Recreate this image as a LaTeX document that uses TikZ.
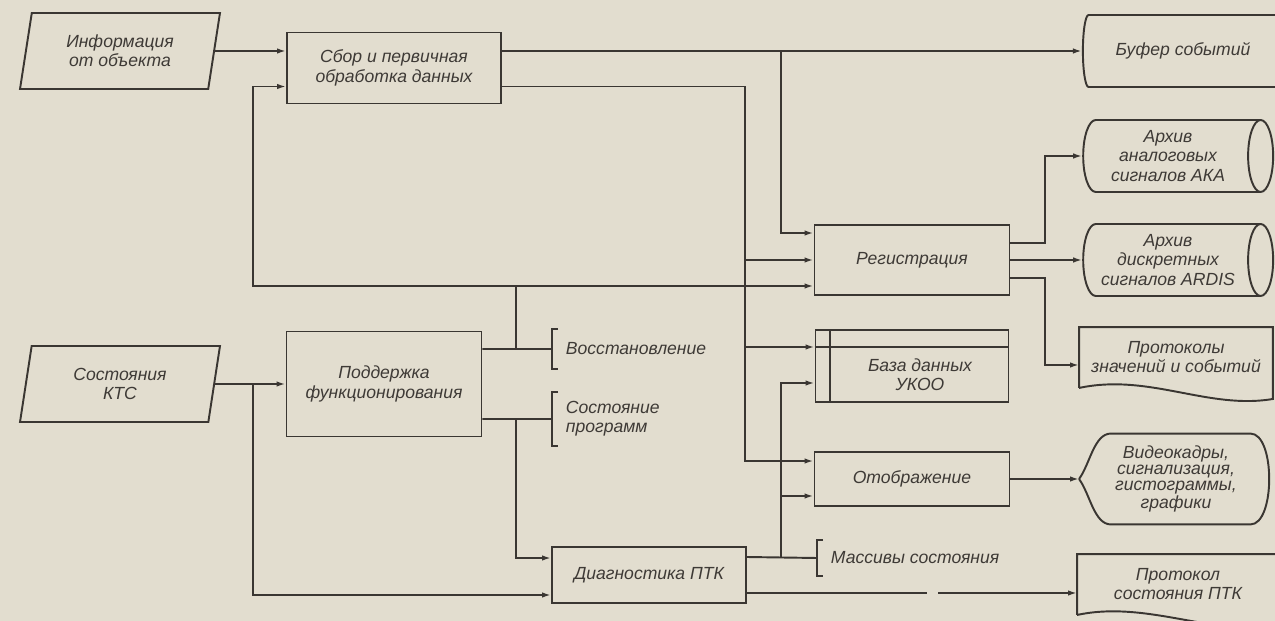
\documentclass[tikz,border=0pt]{standalone}
\usepackage{fontspec}
\setmainfont{Liberation Sans}
\usepackage{tikz}
\usetikzlibrary{shapes.geometric, arrows.meta, positioning, calc}
\definecolor{paperBg}{RGB}{226, 221, 207}
\definecolor{inkDark}{RGB}{58, 54, 50}
\definecolor{inkText}{RGB}{62, 58, 54}

\begin{document}
\begin{tikzpicture}[
    x=0.02cm, y=-0.02cm,
    line width=1.1pt,
    font=\fontsize{10}{11}\selectfont\itshape,
    % Node styles
    block/.style={
        rectangle,
        draw=inkDark,
        minimum width=3.9cm,
        minimum height=1.4cm,
        align=center,
        text=inkText
    },
    iobox/.style={
        trapezium,
        trapezium left angle=75,
        trapezium right angle=105,
        trapezium stretches body,
        draw=inkDark,
        minimum width=4cm,
        minimum height=1.52cm,
        align=center,
        text=inkText
    },
    store/.style={
        cylinder,
        shape border rotate=0,
        aspect=0.4,
        draw=inkDark,
        minimum height=3.8cm,
        minimum width=1.44cm,
        align=center,
        text=inkText
    },
    docbox/.style={
        rectangle,
        minimum width=3.84cm,
        minimum height=1.16cm,
        align=center,
        text=inkText
    },
    comm/.style={
        anchor=west,
        inner xsep=0.26cm,
        align=left,
        text=inkText
    },
    arrow/.style={
        -{Latex[length=1.8mm, width=1.1mm]},
        draw=inkDark
    },
    link/.style={
        draw=inkDark
    }
]

% Paper
\fill[paperBg] (0,0) rectangle (1275,621);
\useasboundingbox (0,0) rectangle (1275,621);

% Inputs
\node[iobox] (info) at (120,51) {Информация\\от объекта};
\node[iobox] (kts) at (120,384) {Состояния\\КТС};

% Processing blocks
\node[block, minimum width=4.28cm, minimum height=1.42cm] (sbor) at (394,68) {Сбор и первичная\\обработка данных};
\node[block, minimum height=2.1cm] (supp) at (384,384) {Поддержка\\функционирования};
\node[block, minimum width=3.88cm, minimum height=1.12cm] (diag) at (649,575) {Диагностика ПТК};
\node[block] (reg) at (912,260) {Регистрация};
\node[block, minimum width=3.86cm, minimum height=1.44cm] (db) at (912,366) {};
\node[align=center, text=inkText] (dbText) at ([xshift=0.16cm, yshift=-0.18cm]db.center) {База данных\\УКОО};
\node[block, minimum height=1.08cm] (disp) at (912,479) {Отображение};

% Storages and outputs
\node[store, minimum height=4.2cm] (buf) at (1183,51) {Буфер событий};
\node[store] (aka) at (1168,156) {Архив\\аналоговых\\сигналов АКА};
\node[store] (ardis) at (1168,260) {Архив\\дискретных\\сигналов ARDIS};
\node[docbox] (proto) at (1176,357) {Протоколы\\значений и событий};
\node[docbox, minimum height=1.78cm, font=\fontsize{10}{9.2}\selectfont\itshape] (video) at (1176,479) {Видеокадры,\\сигнализация,\\гистограммы,\\графики};
\node[docbox, minimum width=4cm] (protk) at (1178,584) {Протокол\\состояния ПТК};

% Comments
\node[comm, minimum height=0.76cm] (rest) at (552,349) {Восстановление};
\node[comm, minimum height=1.04cm] (prog) at (552,419) {Состояние\\программ};
\node[comm, minimum height=0.7cm] (mass) at (817,558) {Массивы состояния};

% Outlines of special shapes
\foreach \n in {proto, protk}
    \draw[link] ([yshift=-0.02cm]\n.south west) -- (\n.north west) -- (\n.north east) -- ([yshift=-0.24cm]\n.south east)
        .. controls ([xshift=-1.3cm, yshift=-0.46cm]\n.south east) and ([xshift=1.4cm, yshift=0.28cm]\n.south west) .. ([yshift=-0.02cm]\n.south west);
\draw[link] (video.west) .. controls ([xshift=0.22cm, yshift=0.3cm]video.west) and ([xshift=0.3cm]video.north west) .. ([xshift=0.64cm]video.north west)
    -- ([xshift=-0.45cm]video.north east) .. controls ([xshift=0.05cm]video.north east) and ([xshift=0.05cm]video.south east) .. ([xshift=-0.45cm]video.south east)
    -- ([xshift=0.64cm]video.south west) .. controls ([xshift=0.3cm]video.south west) and ([xshift=0.22cm, yshift=-0.3cm]video.west) .. (video.west);
\draw[link] ([xshift=0.3cm]db.north west) -- ([xshift=0.3cm]db.south west);
\foreach \c in {rest, prog, mass}
    \draw[link] ([xshift=0.12cm]\c.north west) -| (\c.south west) -- ++(0.12cm,0);

% Ports
\coordinate (sbIn2) at ([yshift=-0.37cm]sbor.west);
\coordinate (sbOut2) at ([yshift=-0.37cm]sbor.east);
\coordinate (regIn1) at ([yshift=0.54cm]reg.west);
\coordinate (regIn3) at ([yshift=-0.52cm]reg.west);
\coordinate (regOut1) at ([yshift=0.34cm]reg.east);
\coordinate (regOut3) at ([yshift=-0.36cm]reg.east);
\coordinate (dbIn1) at ([yshift=0.38cm]db.west);
\coordinate (dbIn2) at ([yshift=-0.34cm]db.west);
\coordinate (dispIn1) at ([yshift=0.36cm]disp.west);
\coordinate (dispIn2) at ([yshift=-0.34cm]disp.west);
\coordinate (supOut1) at ([yshift=0.7cm]supp.east);
\coordinate (supOut2) at ([yshift=-0.7cm]supp.east);
\coordinate (diagIn1) at ([yshift=0.34cm]diag.west);
\coordinate (diagIn2) at ([yshift=-0.4cm]diag.west);
\coordinate (diagOut1) at ([yshift=0.36cm]diag.east);
\coordinate (diagOut2) at ([yshift=-0.36cm]diag.east);
\coordinate (protoIn) at ([yshift=-0.16cm]proto.west);

% Bus lines
\coordinate (busF) at (253,0);
\coordinate (busS) at (516,0);
\coordinate (busA) at (745,0);
\coordinate (busB) at (781,0);
\coordinate (busR) at (1045,0);
\coordinate (gapL) at (927,0);
\coordinate (gapR) at (938,0);

\draw[link] (dbIn1) -- (dbIn1 -| db.east);

% Arrows
\draw[arrow] (info.east) -- (info.east -| sbor.west);
\draw[arrow] (sbor.east |- buf.west) -- (buf.west);
\draw[arrow] (busB |- buf.west) |- (regIn1);
\draw[arrow] (sbOut2) -| (busA |- dispIn1) -- (dispIn1);
\draw[arrow] (busA |- reg.west) -- (reg.west);
\draw[arrow] (busA |- dbIn1) -- (dbIn1);
\draw[link] (supOut1) -- (rest.west);
\draw[arrow] (busS |- supOut1) |- (regIn3);
\draw[arrow] (busS |- regIn3) -| (busF |- sbIn2) -- (sbIn2);
\draw[link] (supOut2) -- (prog.west);
\draw[arrow] (busS |- supOut2) |- (diagIn1);
\draw[arrow] (kts.east) -- (supp.west);
\draw[arrow] (busF |- kts.east) |- (diagIn2);
\draw[link] (diagOut1) -- (mass.west);
\draw[arrow] (busB |- diagOut1) |- (dbIn2);
\draw[arrow] (busB |- dispIn2) -- (dispIn2);
\draw[link] (diagOut2) -- (gapL |- diagOut2);
\draw[arrow] (gapR |- diagOut2) -- (protk.west |- diagOut2);
\draw[arrow] (disp.east) -- (disp.east -| video.west);
\draw[arrow] (regOut1) -| (busR |- aka.west) -- (aka.west);
\draw[arrow] (reg.east) -- (ardis.west);
\draw[arrow] (regOut3) -| (busR |- protoIn) -- (protoIn);

\end{tikzpicture}
\end{document}
